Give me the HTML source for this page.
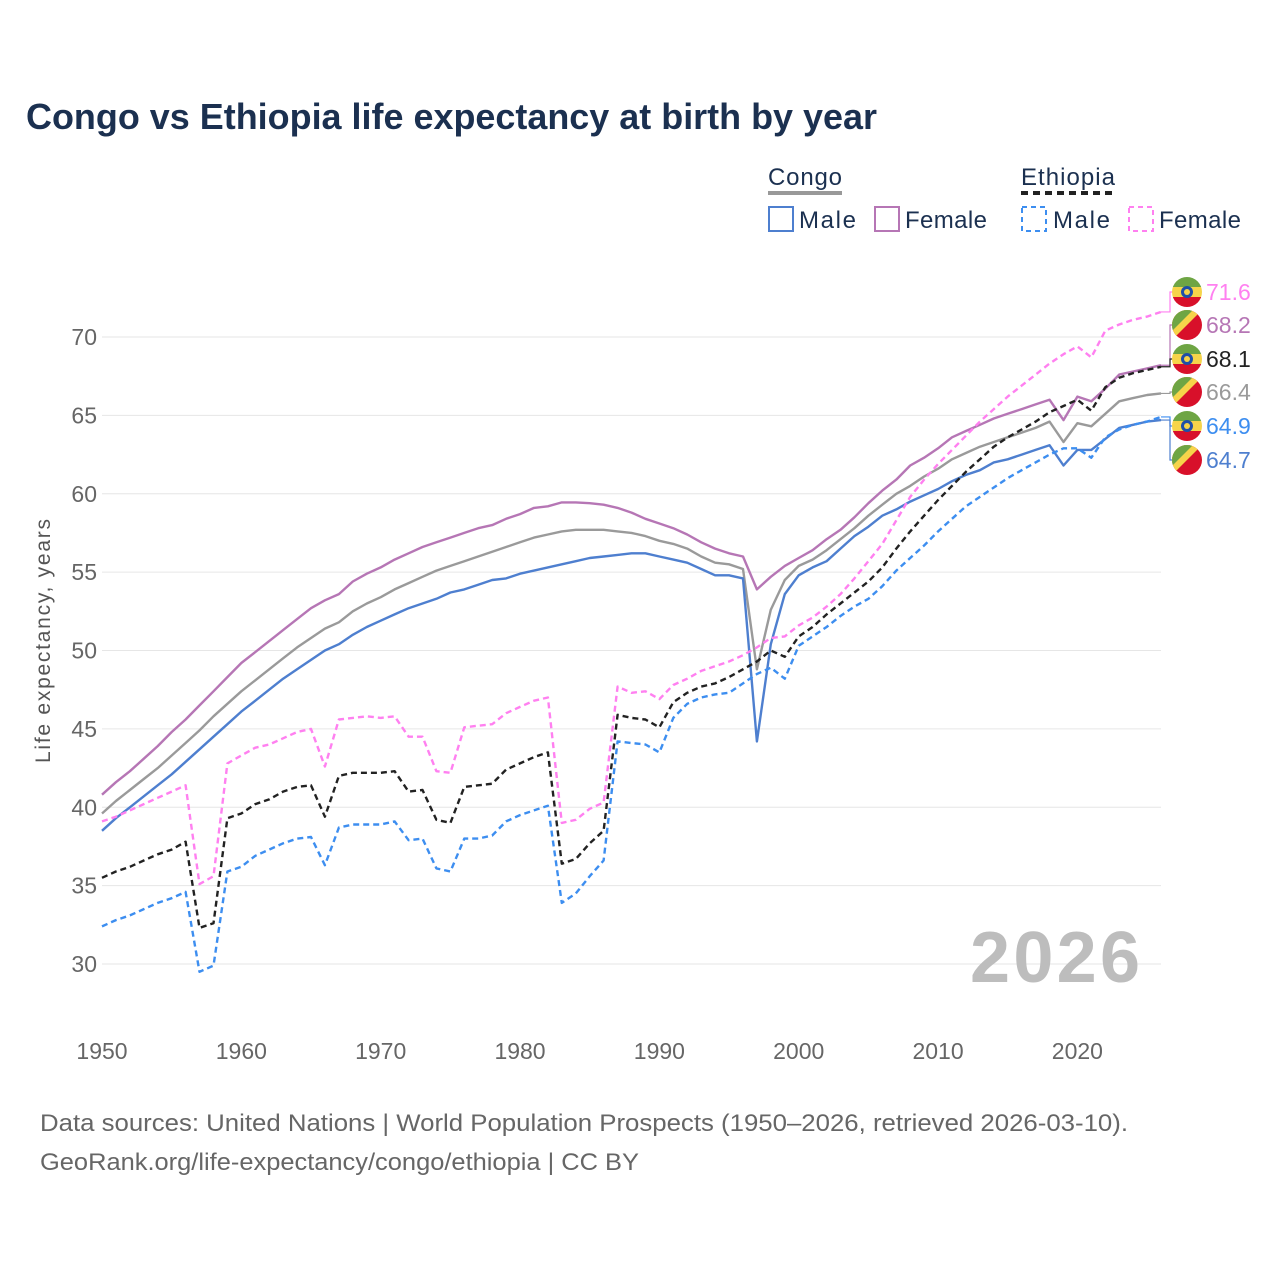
<!DOCTYPE html>
<html><head><meta charset="utf-8"><style>
body{margin:0;background:#fff;}
svg{display:block;font-family:"Liberation Sans",sans-serif;}
</style></head><body>
<svg id="chart" width="1280" height="1280" viewBox="0 0 1280 1280">
<text x="26" y="129" font-size="36" font-weight="bold" fill="#1b3050" textLength="851" lengthAdjust="spacingAndGlyphs">Congo vs Ethiopia life expectancy at birth by year</text>
<g>
<text x="768" y="185" font-size="24" fill="#1b3050" textLength="74">Congo</text>
<line x1="768" x2="842" y1="193" y2="193" stroke="#999" stroke-width="4"/>
<text x="1021" y="185" font-size="24" fill="#1b3050" textLength="94">Ethiopia</text>
<line x1="1021" x2="1115" y1="193" y2="193" stroke="#222" stroke-width="4" stroke-dasharray="7,5"/>
<g><rect x="769" y="207" width="24" height="24" fill="none" stroke="#4e7fcf" stroke-width="2"/><text x="799" y="228" font-size="24" fill="#1b3050" textLength="57">Male</text></g>
<g><rect x="875" y="207" width="24" height="24" fill="none" stroke="#b676b5" stroke-width="2"/><text x="905" y="228" font-size="24" fill="#1b3050" textLength="82">Female</text></g>
<g><rect x="1022" y="207" width="24" height="24" fill="none" stroke="#3d8ef0" stroke-width="2" stroke-dasharray="5,4"/><text x="1053" y="228" font-size="24" fill="#1b3050" textLength="57">Male</text></g>
<g><rect x="1129" y="207" width="24" height="24" fill="none" stroke="#ff80f0" stroke-width="2" stroke-dasharray="5,4"/><text x="1159" y="228" font-size="24" fill="#1b3050" textLength="82">Female</text></g>
</g>
<g id="grid"></g>
<text x="1140" y="982" font-size="72" font-weight="bold" fill="#bdbdbd" text-anchor="end" textLength="170">2026</text>
<text transform="translate(50,641) rotate(-90)" font-size="21" fill="#555" text-anchor="middle" textLength="244">Life expectancy, years</text>
<g id="series"></g>
<g id="labels"></g>
<text x="40" y="1131" font-size="24" fill="#666" textLength="1088" lengthAdjust="spacingAndGlyphs">Data sources: United Nations | World Population Prospects (1950–2026, retrieved 2026-03-10).</text>
<text x="40" y="1170" font-size="24" fill="#666" textLength="599" lengthAdjust="spacingAndGlyphs">GeoRank.org/life-expectancy/congo/ethiopia | CC BY</text>
</svg>
<script>
const startYear = 1950;
const xTicks = [1950,1960,1970,1980,1990,2000,2010,2020];
const yTicks = [30,35,40,45,50,55,60,65,70];
const congoMale = [38.5,39.3,40.0,40.7,41.4,42.1,42.9,43.7,44.5,45.3,46.1,46.8,47.5,48.2,48.8,49.4,50.0,50.4,51.0,51.5,51.9,52.3,52.7,53.0,53.3,53.7,53.9,54.2,54.5,54.6,54.9,55.1,55.3,55.5,55.7,55.9,56.0,56.1,56.2,56.2,56.0,55.8,55.6,55.2,54.8,54.8,54.6,44.2,50.4,53.6,54.8,55.3,55.7,56.5,57.3,57.9,58.6,59.0,59.5,59.9,60.3,60.8,61.2,61.5,62.0,62.2,62.5,62.8,63.1,61.8,62.8,62.8,63.5,64.2,64.4,64.6,64.7];
const congoFemale = [40.8,41.6,42.3,43.1,43.9,44.8,45.6,46.5,47.4,48.3,49.2,49.9,50.6,51.3,52.0,52.7,53.2,53.6,54.4,54.9,55.3,55.8,56.2,56.6,56.9,57.2,57.5,57.8,58.0,58.4,58.7,59.1,59.2,59.45,59.45,59.4,59.3,59.1,58.8,58.4,58.1,57.8,57.4,56.9,56.5,56.2,56.0,53.9,54.7,55.4,55.9,56.4,57.1,57.7,58.5,59.4,60.2,60.9,61.8,62.3,62.9,63.6,64.0,64.4,64.8,65.1,65.4,65.7,66.0,64.7,66.2,65.9,66.7,67.6,67.8,68.0,68.2];
const congoTotal = [39.6,40.4,41.1,41.8,42.5,43.3,44.1,44.9,45.8,46.6,47.4,48.1,48.8,49.5,50.2,50.8,51.4,51.8,52.5,53.0,53.4,53.9,54.3,54.7,55.1,55.4,55.7,56.0,56.3,56.6,56.9,57.2,57.4,57.6,57.7,57.7,57.7,57.6,57.5,57.3,57.0,56.8,56.5,56.0,55.6,55.5,55.2,48.8,52.6,54.5,55.4,55.8,56.4,57.1,57.8,58.6,59.3,60.0,60.5,61.1,61.6,62.2,62.6,63.0,63.3,63.6,63.9,64.2,64.6,63.3,64.5,64.3,65.1,65.9,66.1,66.3,66.4];
const ethiopiaMale = [32.4,32.8,33.1,33.5,33.9,34.2,34.6,29.5,29.9,35.9,36.2,36.9,37.3,37.7,38.0,38.1,36.3,38.7,38.9,38.9,38.9,39.1,37.9,38.0,36.1,35.9,38.0,38.0,38.2,39.1,39.5,39.8,40.1,33.9,34.5,35.6,36.6,44.2,44.1,44.0,43.5,45.7,46.6,47.0,47.2,47.3,47.9,48.5,48.9,48.2,50.3,50.9,51.5,52.2,52.8,53.3,54.1,55.1,55.9,56.7,57.6,58.4,59.2,59.8,60.4,61.0,61.5,62.0,62.5,62.9,62.9,62.3,63.6,64.1,64.4,64.6,64.9];
const ethiopiaFemale = [39.1,39.4,39.8,40.2,40.6,41.0,41.4,35.1,35.6,42.8,43.3,43.8,44.0,44.4,44.8,45.0,42.6,45.6,45.7,45.8,45.7,45.8,44.5,44.5,42.3,42.2,45.1,45.2,45.3,46.0,46.4,46.8,47.0,39.0,39.2,39.9,40.3,47.7,47.3,47.4,46.9,47.8,48.2,48.7,49.0,49.3,49.7,50.2,50.8,50.9,51.6,52.1,52.8,53.6,54.6,55.7,56.8,58.3,59.8,60.9,61.9,62.8,63.7,64.6,65.4,66.2,66.9,67.6,68.3,68.9,69.4,68.7,70.4,70.8,71.1,71.3,71.6];
const ethiopiaTotal = [35.5,35.9,36.2,36.6,37.0,37.3,37.8,32.3,32.6,39.3,39.6,40.2,40.5,41.0,41.3,41.4,39.4,42.0,42.2,42.2,42.2,42.3,41.0,41.1,39.2,39.0,41.3,41.4,41.5,42.4,42.8,43.2,43.5,36.4,36.7,37.7,38.5,45.9,45.7,45.6,45.1,46.7,47.3,47.7,47.9,48.3,48.8,49.3,50.0,49.6,50.9,51.5,52.3,53.0,53.7,54.4,55.3,56.5,57.6,58.6,59.6,60.5,61.4,62.2,63.0,63.6,64.1,64.6,65.2,65.6,66.0,65.3,66.8,67.4,67.7,67.9,68.1];

const NS="http://www.w3.org/2000/svg";
const X0=102,X1=1161,Y0=964,Y1=337;
const xs=y=>X0+(y-1950)*(X1-X0)/76;
const ys=v=>Y0-(v-30)*(Y0-Y1)/40;
function mk(t,a){const e=document.createElementNS(NS,t);for(const k in a)e.setAttribute(k,a[k]);return e;}
const grid=document.getElementById('grid');
yTicks.forEach(v=>{
  const l=mk('line',{x1:X0,x2:X1,y1:ys(v),y2:ys(v),stroke:'#e6e6e6','stroke-width':1});
  
  
  grid.appendChild(l);
  const t=mk('text',{x:97,y:ys(v)+8,'font-size':23,fill:'#666','text-anchor':'end'});
  t.textContent=v;
  
  
  grid.appendChild(t);
});
xTicks.forEach(y=>{
  const t=mk('text',{x:xs(y),y:1059,'font-size':23,fill:'#666','text-anchor':'middle'});
  t.textContent=y;
  
  
  grid.appendChild(t);
});
const series=[
 {n:'congo-total',d:congoTotal,c:'#9a9a9a',dash:''},
 {n:'congo-female',d:congoFemale,c:'#b676b5',dash:''},
 {n:'congo-male',d:congoMale,c:'#4e7fcf',dash:''},
 {n:'ethiopia-female',d:ethiopiaFemale,c:'#ff80f0',dash:'6,4'},
 {n:'ethiopia-male',d:ethiopiaMale,c:'#3d8ef0',dash:'6,4'},
 {n:'ethiopia-total',d:ethiopiaTotal,c:'#222',dash:'6,4'}
];
const sg=document.getElementById('series');
series.forEach(s=>{
  const pts=s.d.map((v,i)=>xs(startYear+i).toFixed(1)+','+ys(v).toFixed(1)).join(' ');
  const p=mk('polyline',{points:pts,fill:'none',stroke:s.c,'stroke-width':2.4,'stroke-dasharray':s.dash,'stroke-linejoin':'round'});
  
  
  sg.appendChild(p);
});
const labelOrder=[
 {n:'ethiopia-female',d:ethiopiaFemale,c:'#ff80f0',f:'eth',y:292},
 {n:'congo-female',d:congoFemale,c:'#b676b5',f:'cog',y:325},
 {n:'ethiopia-total',d:ethiopiaTotal,c:'#222',f:'eth',y:359},
 {n:'congo-total',d:congoTotal,c:'#9a9a9a',f:'cog',y:392},
 {n:'ethiopia-male',d:ethiopiaMale,c:'#3d8ef0',f:'eth',y:426},
 {n:'congo-male',d:congoMale,c:'#4e7fcf',f:'cog',y:460}
];
const lg=document.getElementById('labels');
const defs=mk('defs',{});
defs.innerHTML='<clipPath id="fc"><circle cx="0" cy="0" r="15"/></clipPath>';
lg.appendChild(defs);
labelOrder.forEach(s=>{
  const last=s.d[s.d.length-1];
  const ly=ys(last);
  const con=mk('polyline',{points:`${X1},${ly} ${X1+9},${ly} ${X1+9},${s.y} ${X1+13},${s.y}`,fill:'none',stroke:s.c,'stroke-width':1.2});
  
  
  lg.appendChild(con);
  const g=mk('g',{transform:`translate(1187,${s.y})`,'clip-path':'url(#fc)'});
  if(s.f==='eth'){
    g.innerHTML='<rect x="-15" y="-15" width="30" height="10" fill="#6ea544"/><rect x="-15" y="-5" width="30" height="10" fill="#f6d44a"/><rect x="-15" y="5" width="30" height="10" fill="#d8102a"/><circle r="6" fill="#1f4fa8"/><circle r="3" fill="#f6d44a"/>';
  } else {
    g.innerHTML='<rect x="-15" y="-15" width="30" height="30" fill="#d8102a"/><polygon points="-15,-15 15,-15 -15,15" fill="#f6d44a"/><polygon points="-15,-15 6,-15 -15,6" fill="#6ea544"/>';
  }
  
  
  lg.appendChild(g);
  const t=mk('text',{x:1206,y:s.y+8,'font-size':23,fill:s.c});
  t.textContent=last.toFixed(1);
  
  
  lg.appendChild(t);
});
</script>
</body></html>
